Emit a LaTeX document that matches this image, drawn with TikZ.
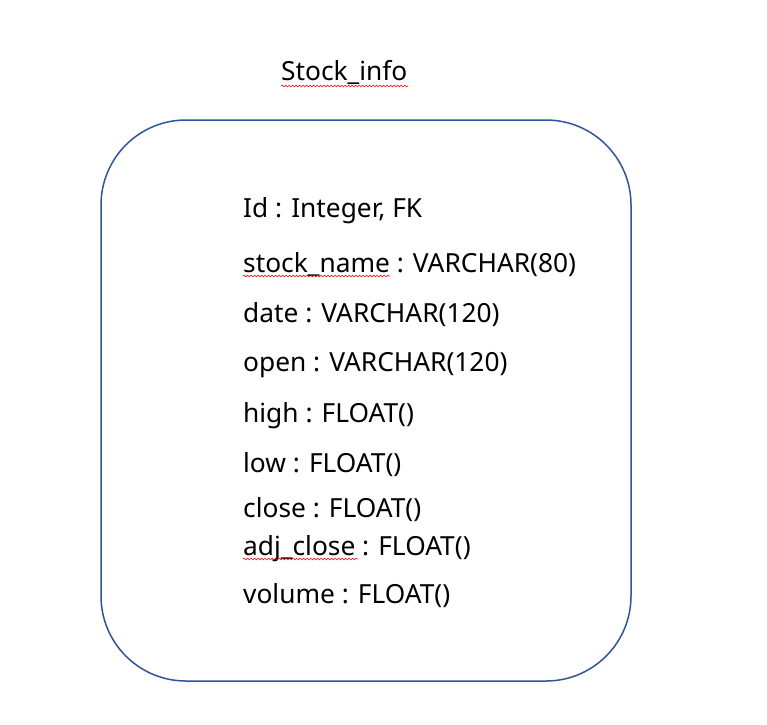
\documentclass[tikz,border=0pt]{standalone}
\usepackage{fontspec}
\setmainfont{Noto Sans}
\usetikzlibrary{decorations.pathmorphing}
\definecolor{boxblue}{HTML}{2F5597}
\tikzset{
  field/.style={anchor=base west, inner sep=0pt, font=\fontsize{26.3}{30}\selectfont},
  spell/.style={draw=red, line width=0.6pt, decorate, decoration={snake, amplitude=0.9pt, segment length=3.5pt}}
}
\begin{document}
\begin{tikzpicture}[x=1pt,y=-1pt]
\useasboundingbox (0,0) rectangle (767,724);
\fill[white] (0,0) rectangle (767,724);
\draw[boxblue, line width=1.5pt, rounded corners=85pt] (101,120) rectangle (631,681);
\node[field] (title) at (281,80) {Stock\_info};
\node[field] (f1) at (243,217) {Id : Integer, FK};
\node[field] (f2) at (243,272) {stock\_name : VARCHAR(80)};
\node[field] (f3) at (243,322) {date : VARCHAR(120)};
\node[field] (f4) at (243,371) {open : VARCHAR(120)};
\node[field] (f5) at (243,422) {high : FLOAT()};
\node[field] (f6) at (243,472) {low : FLOAT()};
\node[field] (f7) at (243,517) {close : FLOAT()};
\node[field] (f8) at (243,555) {adj\_close : FLOAT()};
\node[field] (f9) at (243,603) {volume : FLOAT()};
\coordinate (s1a) at (281,86); \coordinate (s1b) at (408,86);
\coordinate (s2a) at (243,276); \coordinate (s2b) at (390,276);
\coordinate (s3a) at (243,559); \coordinate (s3b) at (358,559);
\draw[spell] (s1a) -- (s1b);
\draw[spell] (s2a) -- (s2b);
\draw[spell] (s3a) -- (s3b);
\end{tikzpicture}
\end{document}
